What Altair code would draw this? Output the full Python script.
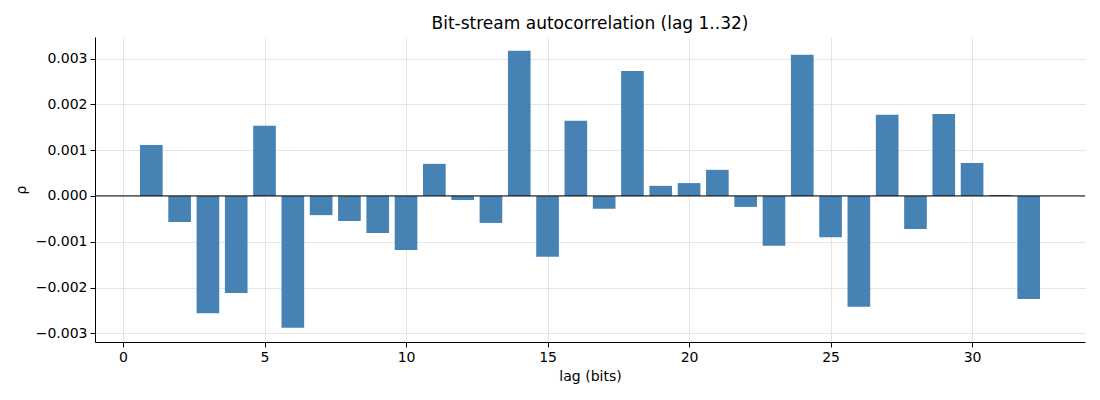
import altair as alt
import pandas as pd

lags = list(range(1, 33))
rho = [
    0.00111, -0.00057, -0.00256, -0.00212, 0.00153, -0.00288, -0.00042, -0.00055,
    -0.00081, -0.00118, 0.00070, -0.00009, -0.00059, 0.00317, -0.00133, 0.00164,
    -0.00028, 0.00273, 0.00022, 0.00028, 0.00057, -0.00024, -0.00109, 0.00308,
    -0.00090, -0.00242, 0.00177, -0.00072, 0.00179, 0.00072, 0.00002, -0.00225,
]
x_ticks = [0, 5, 10, 15, 20, 25, 30]
y_ticks = [-0.003, -0.002, -0.001, 0.0, 0.001, 0.002, 0.003]

df = pd.DataFrame({"lag": lags, "rho": rho})
df["x0"] = df["lag"] - 0.4
df["x1"] = df["lag"] + 0.4

font = "DejaVu Sans"

bars = (
    alt.Chart(df)
    .mark_bar(color="#4682b4")
    .encode(
        x=alt.X(
            "x0:Q",
            title="lag (bits)",
            scale=alt.Scale(domain=[-0.99, 33.99], nice=False, zero=False),
            axis=alt.Axis(values=x_ticks, format="d"),
        ),
        x2="x1:Q",
        y=alt.Y(
            "rho:Q",
            title="ρ",
            scale=alt.Scale(domain=[-0.00319, 0.00347], nice=False, zero=False),
            axis=alt.Axis(values=y_ticks, format=".3f"),
        ),
        y2=alt.datum(0),
        tooltip=["lag", "rho"],
    )
)

zero_line = (
    alt.Chart(pd.DataFrame({"y": [0.0]}))
    .mark_rule(color="black", strokeWidth=1)
    .encode(y="y:Q")
)

chart = (
    alt.layer(bars, zero_line)
    .properties(
        width=990,
        height=305,
        title=alt.TitleParams(
            "Bit-stream autocorrelation (lag 1..32)",
            font=font,
            fontSize=17,
            fontWeight="normal",
            color="black",
            offset=4,
        ),
        autosize=alt.AutoSizeParams(type="none"),
        padding={"left": 87, "top": 29, "right": 5, "bottom": 50},
    )
    .configure_view(stroke=None)
    .configure_axis(
        labelFont=font,
        titleFont=font,
        labelFontSize=14,
        titleFontSize=14,
        titleFontWeight="normal",
        labelColor="black",
        titleColor="black",
        domainColor="black",
        tickColor="black",
        tickSize=5,
        gridColor="#e5e5e5",
        labelPadding=3,
    )
    .configure_axisY(titlePadding=7)
    .configure_axisX(titlePadding=5)
)

chart.save("out.html", embed_options={"renderer": "svg", "actions": False})
